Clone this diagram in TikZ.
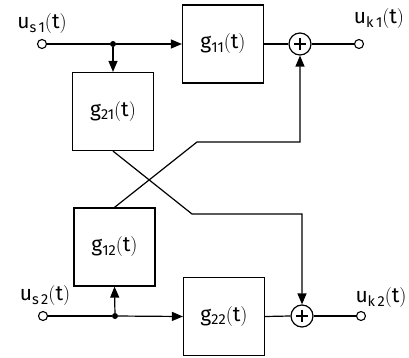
\documentclass[tikz,border=0pt]{standalone}
\usepackage{fontspec}
\setmainfont{Fira Sans}
\newfontfamily\lmfam{Latin Modern Roman}
\usetikzlibrary{arrows.meta}
\newcommand\lowsub[1]{\raisebox{-0.3ex}{\fontsize{14.5}{15}\selectfont #1}}
\newcommand\argt{{\lmfam\fontsize{20}{22}\selectfont(}t{\lmfam\fontsize{20}{22}\selectfont)}}
\tikzset{
  blk/.style={draw, line width=1.2pt, minimum width=81pt, minimum height=78pt, inner sep=0pt, font=\fontsize{21}{24}\selectfont},
  sumnode/.style={draw, circle, line width=1.2pt, minimum size=22pt, inner sep=0pt,
    path picture={\draw[line width=1.2pt] ([xshift=-6pt]path picture bounding box.center) -- ([xshift=6pt]path picture bounding box.center)
      ([yshift=-6pt]path picture bounding box.center) -- ([yshift=6pt]path picture bounding box.center);}},
  port/.style={draw, circle, line width=1.1pt, fill=white, minimum size=9pt, inner sep=0pt},
  dot/.style={circle, fill=black, minimum size=6pt, inner sep=0pt},
  lbl/.style={font=\fontsize{21}{24}\selectfont, inner sep=0pt},
  wire/.style={line width=1.2pt},
  arr/.style={wire, -{Triangle[length=11pt,width=9pt]}}
}
\begin{document}
\begin{tikzpicture}[x=1pt,y=-1pt]
\useasboundingbox (0,0) rectangle (409,358);
\node[blk] (g11) at (223,44) {g\lowsub{11}\argt};
\node[blk] (g21) at (113,111.5) {g\lowsub{21}\argt};
\node[blk] (g12) at (114.5,247) {g\lowsub{12}\argt};
\node[blk] (g22) at (224,316.5) {g\lowsub{22}\argt};
\node[sumnode] (s1) at (300,44) {};
\node[sumnode] (s2) at (302,316) {};
\node[dot] (j1) at (113,44) {};
\node[dot] (j2) at (115,316) {};
\coordinate (c1) at (192,214);
\coordinate (c2) at (302,214);
\coordinate (c3) at (197,142);
\coordinate (c4) at (300,142);
% wires
\draw[wire] (42,44) -- (j1);
\node[port] (in1) at (42,44) {};
\draw[arr] (j1) -- (g11.west);
\draw[arr] (j1) -- (g21.north);
\draw[wire] (g11.east) -- (s1.west);
\draw[wire] (s1.east) -- (359,44);
\node[port] (out1) at (359,44) {};
\draw[wire] (43,316) -- (j2);
\node[port] (in2) at (43,316) {};
\draw[arr] (j2) -- (g22.west);
\draw[arr] (j2) -- (g12.south);
\draw[wire] (g22.east) -- (s2.west);
\draw[wire] (s2.east) -- (361,316);
\node[port] (out2) at (361,316) {};
\draw[arr] (g21.south) -- (c1) -- (c2) -- (s2.north);
\draw[arr] (g12.north) -- (c3) -- (c4) -- (s1.south);
% labels
\node[lbl] (l1) at (42,24) {u\lowsub{s\,1}\argt};
\node[lbl] (l2) at (45,296) {u\lowsub{s\,2}\argt};
\node[lbl] (l3) at (379,19) {u\lowsub{k\,1}\argt};
\node[lbl] (l4) at (381,298) {u\lowsub{k\,2}\argt};
\end{tikzpicture}
\end{document}
